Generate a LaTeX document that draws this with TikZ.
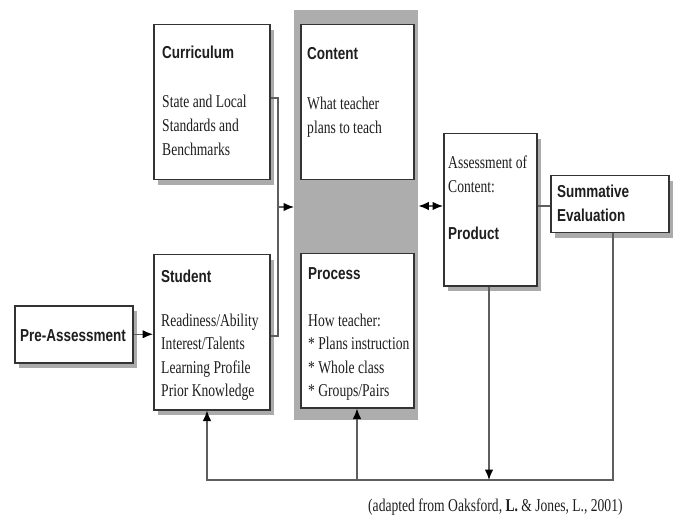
\documentclass[tikz,border=0pt]{standalone}
\usepackage{fontspec}
\setmainfont{Liberation Serif}[FakeStretch=0.755]
\newfontfamily\hdrfont{Liberation Sans}[FakeStretch=0.78]
\usetikzlibrary{arrows.meta,shadows}
\definecolor{boxline}{HTML}{333333}
\definecolor{connline}{HTML}{5E5E5E}
\definecolor{shade}{HTML}{ABABAB}
\definecolor{panelgray}{HTML}{ADADAD}
\definecolor{txt}{HTML}{1E1E1E}
\tikzset{
  box/.style={draw=boxline, line width=1.5pt, fill=white, inner sep=0pt, anchor=north west},
  shbox/.style={box, general shadow={fill=shade, shadow xshift=4.5pt, shadow yshift=-5pt}},
  hd/.style={anchor=base west, inner sep=0pt, text=txt, font=\hdrfont\bfseries\fontsize{17.3}{20}\selectfont},
  bd/.style={anchor=base west, inner sep=0pt, text=txt, font=\fontsize{18}{20}\selectfont},
  conn/.style={draw=connline, line width=1.3pt},
  tip/.tip={Latex[length=10.5pt,width=8.5pt,color=black]},
  arr/.style={conn, -tip},
  dblarr/.style={conn, tip-tip},
}
\begin{document}
\begin{tikzpicture}[x=1pt,y=-1pt]
\useasboundingbox (0,0) rectangle (676,518);
% central panel
\node[fill=panelgray, inner sep=0pt, anchor=north west, minimum width=124pt, minimum height=410pt] (panel) at (294,10) {};
% boxes
\node[shbox, minimum width=118pt, minimum height=57pt] (pre) at (14,305) {};
\node[shbox, minimum width=116pt, minimum height=155pt] (cur) at (153,24) {};
\node[shbox, minimum width=116pt, minimum height=155pt] (stu) at (153,254) {};
\node[box, minimum width=113pt, minimum height=155pt] (con) at (300,24) {};
\node[box, minimum width=113pt, minimum height=154pt] (pro) at (300,253) {};
\node[shbox, minimum width=93pt, minimum height=152pt] (ass) at (443,133) {};
\node[shbox, minimum width=118pt, minimum height=57pt] (sum) at (550,175) {};
% texts
\node[hd] (preT) at (20,341) {Pre-Assessment};
\node[hd] (curT) at (162,59) {Curriculum};
\node[bd] (cur1) at (162,108) {State and Local};
\node[bd] (cur2) at (162,132) {Standards and};
\node[bd] (cur3) at (162,156) {Benchmarks};
\node[hd] (conT) at (307,60) {Content};
\node[bd] (con1) at (307,110) {What teacher};
\node[bd] (con2) at (307,134) {plans to teach};
\node[hd] (stuT) at (161,282) {Student};
\node[bd] (stu1) at (161,326) {Readiness/Ability};
\node[bd] (stu2) at (161,349.5) {Interest/Talents};
\node[bd] (stu3) at (161,373) {Learning Profile};
\node[bd] (stu4) at (161,396.5) {Prior Knowledge};
\node[hd] (proT) at (308,279) {Process};
\node[bd] (pro1) at (308,326) {How teacher:};
\node[bd] (pro2) at (308,349.5) {* Plans instruction};
\node[bd] (pro3) at (308,373) {* Whole class};
\node[bd] (pro4) at (308,396.5) {* Groups/Pairs};
\node[bd] (ass1) at (448,169) {Assessment of};
\node[bd] (ass2) at (448,193) {Content:};
\node[hd] (assT) at (448,240) {Product};
\node[hd] (sum1) at (557,198) {Summative};
\node[hd] (sum2) at (557,222) {Evaluation};
\node[bd] (cite) at (368,511) {(adapted from Oaksford, \textbf{L.} \& Jones, L., 2001)};
% junction coordinates
\coordinate (j1) at (278,98);
\coordinate (j2) at (278,336);
\coordinate (jm) at (278,207);
\coordinate (da) at (0,206);
\coordinate (sr) at (613,480);
\coordinate (bl) at (207,480);
\coordinate (bp) at (357,480);
\coordinate (ba) at (489,480);
% connectors
\draw[arr] (pre.east) -- (stu.west |- pre.east);
\draw[conn] (cur.east |- j1) -- (j1) -- (j2) -- (stu.east |- j2);
\draw[arr] (jm) -- (panel.west |- jm);
\draw[dblarr] (panel.east |- da) -- (ass.west |- da);
\draw[conn] (ass.east |- da) -- (sum.west |- da);
\draw[arr] (sum.south -| sr) -- (sr) -- (bl) -- (stu.south -| bl);
\draw[arr] (bp) -- (pro.south -| bp);
\draw[arr] (ass.south -| ba) -- (ba);
\end{tikzpicture}
\end{document}
